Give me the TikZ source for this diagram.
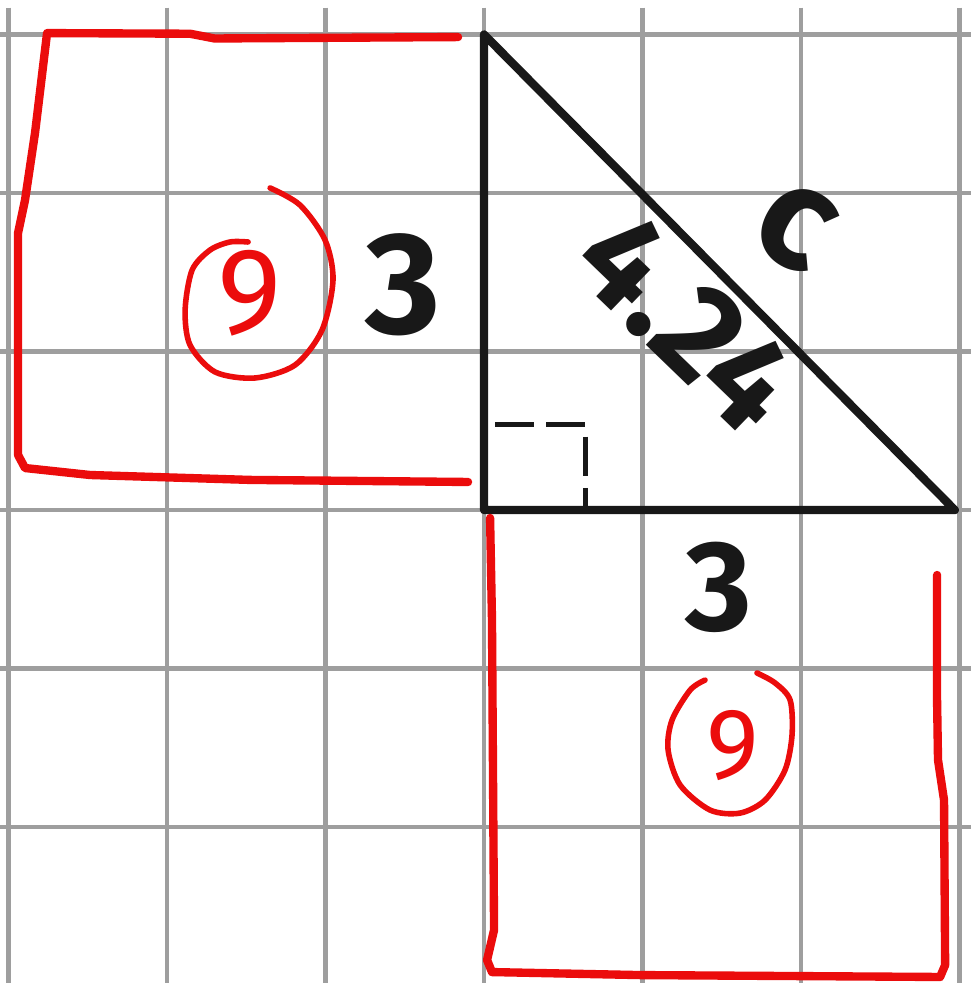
\documentclass[tikz,border=0pt]{standalone}
\usepackage{fontspec}
\setmainfont{Fira Sans}
\usetikzlibrary{positioning}
\definecolor{penred}{RGB}{235,12,12}
\definecolor{gridgray}{RGB}{158,158,158}
\definecolor{penblack}{RGB}{24,24,24}

\begin{document}
\begin{tikzpicture}[auto ,node distance =1cm ,
gridline/.style ={gridgray , line width =0.8pt },
leg/.style ={penblack , line width =1.5pt , line join =round },
redpen/.style ={penred , line width =1.5pt , line cap =round , line join =round },
ring/.style ={penred , line width =1pt , line cap =round , line join =round },
side/.style ={penblack , inner sep =0pt , font =\fontsize{26}{26}\selectfont\bfseries },
nine/.style ={penred , inner sep =0pt , font =\fontsize{22}{22}\selectfont }]
\useasboundingbox (-3.054,-2.984) rectangle (3.079,3.218);
\fill[white] (-3.054,-2.984) rectangle (3.079,3.218);
% squared paper
\foreach \x in {-3,...,3}
  \draw[gridline] (\x,3.17) -- (\x,-2.984);
\foreach \y in {-2,...,3}
  \draw[gridline] (-3.054,\y) -- (3.07,\y);
% the triangle
\coordinate (A) at (0,3);
\coordinate (B) at (0,0);
\coordinate (C) at (2.97,0);
\draw[leg] (A) -- (B) -- (C) -- cycle;
\coordinate (R1) at (0.07,0.54);
\coordinate (R2) at (0.64,0.54);
\coordinate (R3) at (0.64,0);
\draw[penblack , line width =1pt , dash pattern =on 7pt off 2.2pt] (R1) -- (R2) -- (R3);
% side labels
\node[side] (s1) at (-0.51,1.42) {3};
\node[side , font =\fontsize{23}{23}\selectfont\bfseries] (s2) at (1.48,-0.49) {3};
\node[side , rotate =-44 , font =\fontsize{24}{24}\selectfont\bfseries] (hyp) at (1.28,1.19) {4.24};
\node[side , rotate =-30] (c) at (1.96,1.79) {c};
% squares on the legs
\draw[redpen] (-0.164,2.984) -- (-1.70,2.975) -- (-1.855,3.005) -- (-2.757,3.009)
  -- (-2.833,2.379) -- (-2.896,1.956) -- (-2.940,1.748)
  -- (-2.940,0.347) -- (-2.896,0.265) -- (-2.486,0.221) -- (-1.476,0.190) -- (-0.101,0.177);
\draw[redpen] (0.038,-0.050) -- (0.050,-0.694) -- (0.063,-2.650) -- (0.019,-2.839)
  -- (0.050,-2.915) -- (0.984,-2.934) -- (2.877,-2.946) -- (2.909,-2.871)
  -- (2.902,-1.830) -- (2.864,-1.577) -- (2.858,-1.199) -- (2.858,-0.410);
% areas
\node[nine] (n1) at (-1.476,1.369) {9};
\draw[ring] plot[smooth] coordinates {(-1.350,2.032) (-1.161,1.924) (-1.003,1.703)
  (-0.953,1.451) (-1.022,1.136) (-1.192,0.915) (-1.445,0.833) (-1.697,0.871)
  (-1.855,1.041) (-1.886,1.262) (-1.842,1.514) (-1.729,1.640) (-1.603,1.691) (-1.489,1.691)};
\node[nine , font =\fontsize{18}{18}\selectfont] (n2) at (1.571,-1.489) {9};
\draw[ring] plot[smooth] coordinates {(1.394,-1.073) (1.300,-1.136) (1.186,-1.325)
  (1.161,-1.514) (1.237,-1.735) (1.426,-1.893) (1.615,-1.912) (1.773,-1.830)
  (1.899,-1.640) (1.943,-1.420) (1.931,-1.199) (1.836,-1.091) (1.722,-1.028)};
\end{tikzpicture}
\end{document}
